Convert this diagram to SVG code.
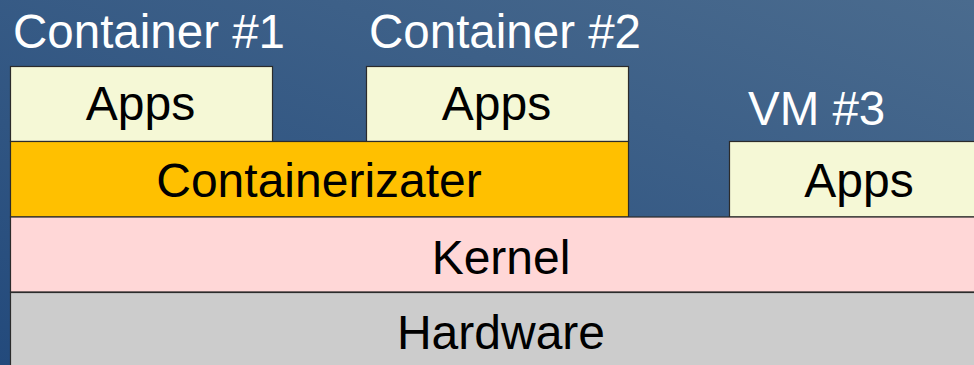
<svg xmlns="http://www.w3.org/2000/svg" width="974" height="365" viewBox="0 0 974 365">
  <defs>
    <linearGradient id="bg" x1="0" y1="1" x2="1" y2="0">
      <stop offset="0" stop-color="#234a7c"/>
      <stop offset="1" stop-color="#4a6b8e"/>
    </linearGradient>
  </defs>
  <style>
    .box { stroke: #2b2b2b; stroke-width: 1.2; }
    .apps { fill: #f5f8d6; }
    .ctr { fill: #ffc000; }
    .kern { fill: #ffd7d7; }
    .hw { fill: #cccccc; }
    .lbl { font-family: "Liberation Sans", Arial, sans-serif; font-size: 48px; fill: #000; text-anchor: middle; }
    .title { font-family: "Liberation Sans", Arial, sans-serif; font-size: 47.5px; fill: #ffffff; }
  </style>
  <rect width="974" height="365" fill="url(#bg)"/>

  <text class="title" x="13" y="48">Container #1</text>
  <text class="title" x="369" y="48">Container #2</text>
  <text class="title" x="748" y="125">VM #3</text>

  <g id="apps1">
    <rect class="box apps" x="10.5" y="66.5" width="262" height="75"/>
    <text class="lbl" x="140.5" y="120">Apps</text>
  </g>
  <g id="apps2">
    <rect class="box apps" x="366.5" y="66.5" width="262" height="75"/>
    <text class="lbl" x="496.5" y="120">Apps</text>
  </g>
  <g id="containerizer">
    <rect class="box ctr" x="10.5" y="141.5" width="618" height="75.5"/>
    <text class="lbl" x="319" y="197">Containerizater</text>
  </g>
  <g id="apps3">
    <rect class="box apps" x="729.5" y="141.5" width="250" height="75.5"/>
    <text class="lbl" x="859" y="197">Apps</text>
  </g>
  <g id="kernel">
    <rect class="box kern" x="10.5" y="217" width="970" height="75"/>
    <text class="lbl" x="501" y="274">Kernel</text>
  </g>
  <g id="hardware">
    <rect class="box hw" x="10.5" y="292.5" width="970" height="80"/>
    <text class="lbl" x="501" y="349">Hardware</text>
  </g>
  <g id="connectors"/>
</svg>
